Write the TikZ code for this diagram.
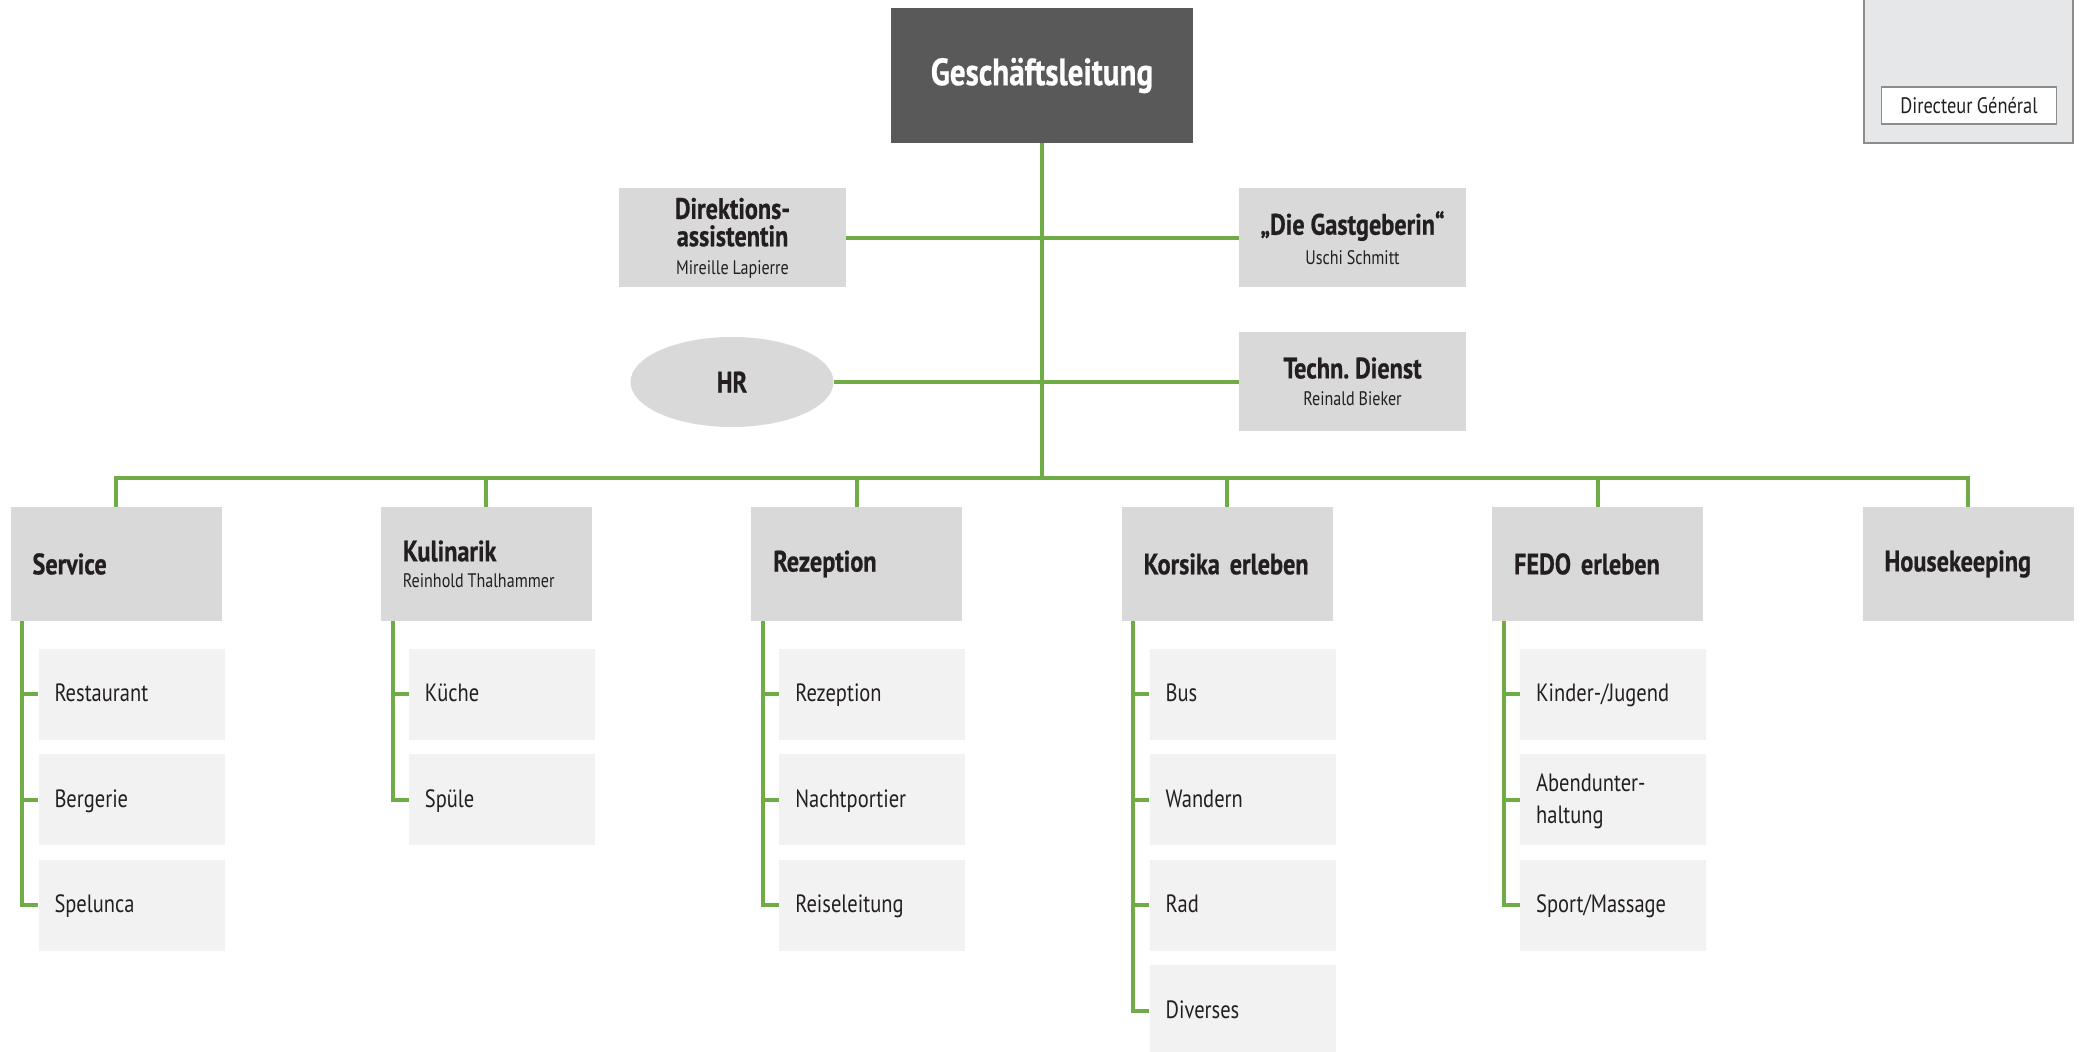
\documentclass[tikz,border=0pt]{standalone}
\usepackage{fontspec}
\setmainfont{PT Sans}[FakeStretch=0.82,BoldFeatures={FakeBold=0.6}]
\usetikzlibrary{shapes.geometric}
\definecolor{grn}{HTML}{6FAC46}
\definecolor{dark}{HTML}{595959}
\definecolor{midg}{HTML}{D9D9D9}
\definecolor{lightg}{HTML}{F2F2F2}
\definecolor{dgfill}{HTML}{E6E7E8}
\definecolor{dgline}{HTML}{8C8C8C}
\definecolor{txt}{HTML}{231F20}
\frenchspacing
\newcommand{\tightspace}{\spaceskip=0.2em plus 0.05em\relax\frenchspacing}
\newcommand{\titlefont}{\fontsize{14.8}{14.5}\selectfont\bfseries\tightspace}
\newcommand{\namefont}{\fontsize{9.8}{14}\selectfont\mdseries\tightspace}
\newcommand{\subfont}{\fontsize{12.5}{16}\selectfont\tightspace}
\begin{document}
\begin{tikzpicture}[x=0.5pt,y=-0.5pt,
  conn/.style={draw=grn,line width=2pt},
  topbox/.style={rectangle,fill=dark,text=white,font=\fontsize{19}{22}\selectfont\bfseries,
    minimum width=151pt,minimum height=67.5pt,inner sep=0pt},
  midbox/.style={rectangle,fill=midg,text=txt,minimum width=113.5pt,minimum height=49.5pt,
    inner sep=0pt,align=center,font=\titlefont},
  hrshape/.style={ellipse,fill=midg,text=txt,minimum width=101.5pt,minimum height=45pt,
    inner sep=0pt,font=\titlefont},
  deptbox/.style={rectangle,fill=midg,text=txt,minimum height=57pt,inner xsep=11pt,inner ysep=0pt,
    text width=83.5pt,align=left,font=\titlefont},
  subbox/.style={rectangle,fill=lightg,text=txt,minimum height=45.5pt,inner xsep=8pt,inner ysep=0pt,
    text width=77pt,align=left,font=\subfont,text height=8.2pt,text depth=0.6pt},
  subboxtwo/.style={rectangle,fill=lightg,text=txt,minimum height=45.5pt,inner xsep=8pt,inner ysep=0pt,
    text width=77pt,align=left,font=\subfont}
]
\useasboundingbox (0,0) rectangle (2080,1052);

% Directeur General legend
\node[rectangle,fill=dgfill,draw=dgline,line width=0.7pt,minimum width=104.5pt,minimum height=74pt,inner sep=0pt] (dgouter) at (1968.5,69) {};
\node[rectangle,fill=white,draw=dgline,line width=0.6pt,minimum width=87.5pt,minimum height=18.5pt,inner sep=0pt,
  text=txt,font=\fontsize{11.2}{13}\selectfont\tightspace] (dginner) at (1969,105.5) {Directeur Général};

% top
\node[topbox] (gl) at (1042,75.5) {Geschäftsleitung};

% staff
\node[midbox] (da) at (732.5,238) {Direktions-\\[-0.8pt]assistentin\\[-0.5pt]{\namefont Mireille Lapierre}};
\node[midbox] (gg) at (1352.5,238) {„Die Gastgeberin“\\[0.5pt]{\namefont Uschi Schmitt}};
\node[hrshape] (hr) at (732,382) {HR};
\node[midbox] (td) at (1352.5,381.5) {Techn. Dienst\\[-1pt]{\namefont Reinald Bieker}};

% departments
\node[deptbox] (svc) at (116,564) {Service};
\node[deptbox] (kul) at (486.4,564) {Kulinarik\\[-1.5pt]{\namefont\mbox{Reinhold Thalhammer}}};
\node[deptbox] (rez) at (856.8,564) {Rezeption};
\node[deptbox] (kor) at (1227.2,564) {Korsika erleben};
\node[deptbox] (fedo) at (1597.6,564) {FEDO erleben};
\node[deptbox] (hk) at (1968,564) {Housekeeping};

\coordinate (bus) at (1042,478);

% sub units
\node[subbox] (svc1) at (131.5,694) {Restaurant};
\node[subbox] (svc2) at (131.5,799.5) {Bergerie};
\node[subbox] (svc3) at (131.5,905) {Spelunca};

\node[subbox] (kul1) at (501.9,694) {Küche};
\node[subbox] (kul2) at (501.9,799.5) {Spüle};

\node[subbox] (rez1) at (872.3,694) {Rezeption};
\node[subbox] (rez2) at (872.3,799.5) {Nachtportier};
\node[subbox] (rez3) at (872.3,905) {Reiseleitung};

\node[subbox] (kor1) at (1242.7,694) {Bus};
\node[subbox] (kor2) at (1242.7,799.5) {Wandern};
\node[subbox] (kor3) at (1242.7,905) {Rad};
\node[subbox] (kor4) at (1242.7,1010.5) {Diverses};

\node[subbox] (fedo1) at (1613.1,694) {Kinder-/Jugend};
\node[subboxtwo] (fedo2) at (1613.1,799.5) {\rule{0pt}{11pt}Abendunter-\\haltung};
\node[subbox] (fedo3) at (1613.1,905) {Sport/Massage};

% connectors: staff
\draw[conn] (gl.south) -- (gl.south |- bus);
\draw[conn] (da.east) -- (gg.west);
\draw[conn] (hr.east) -- (hr.east -| td.west);

% bus
\draw[conn] (svc.north) |- (hk.north |- bus) -- (hk.north);
\draw[conn] (kul.north) -- (kul.north |- bus);
\draw[conn] (rez.north) -- (rez.north |- bus);
\draw[conn] (kor.north) -- (kor.north |- bus);
\draw[conn] (fedo.north) -- (fedo.north |- bus);

% branches
\draw[conn] (svc.south west) ++(12,0) coordinate (svcb) |- (svc3.west);
\draw[conn] (svc1.west) -- (svc1.west -| svcb);
\draw[conn] (svc2.west) -- (svc2.west -| svcb);

\draw[conn] (kul.south west) ++(12,0) coordinate (kulb) |- (kul2.west);
\draw[conn] (kul1.west) -- (kul1.west -| kulb);

\draw[conn] (rez.south west) ++(12,0) coordinate (rezb) |- (rez3.west);
\draw[conn] (rez1.west) -- (rez1.west -| rezb);
\draw[conn] (rez2.west) -- (rez2.west -| rezb);

\draw[conn] (kor.south west) ++(12,0) coordinate (korb) |- (kor4.west);
\draw[conn] (kor1.west) -- (kor1.west -| korb);
\draw[conn] (kor2.west) -- (kor2.west -| korb);
\draw[conn] (kor3.west) -- (kor3.west -| korb);

\draw[conn] (fedo.south west) ++(12,0) coordinate (fedob) |- (fedo3.west);
\draw[conn] (fedo1.west) -- (fedo1.west -| fedob);
\draw[conn] (fedo2.west) -- (fedo2.west -| fedob);
\end{tikzpicture}
\end{document}
